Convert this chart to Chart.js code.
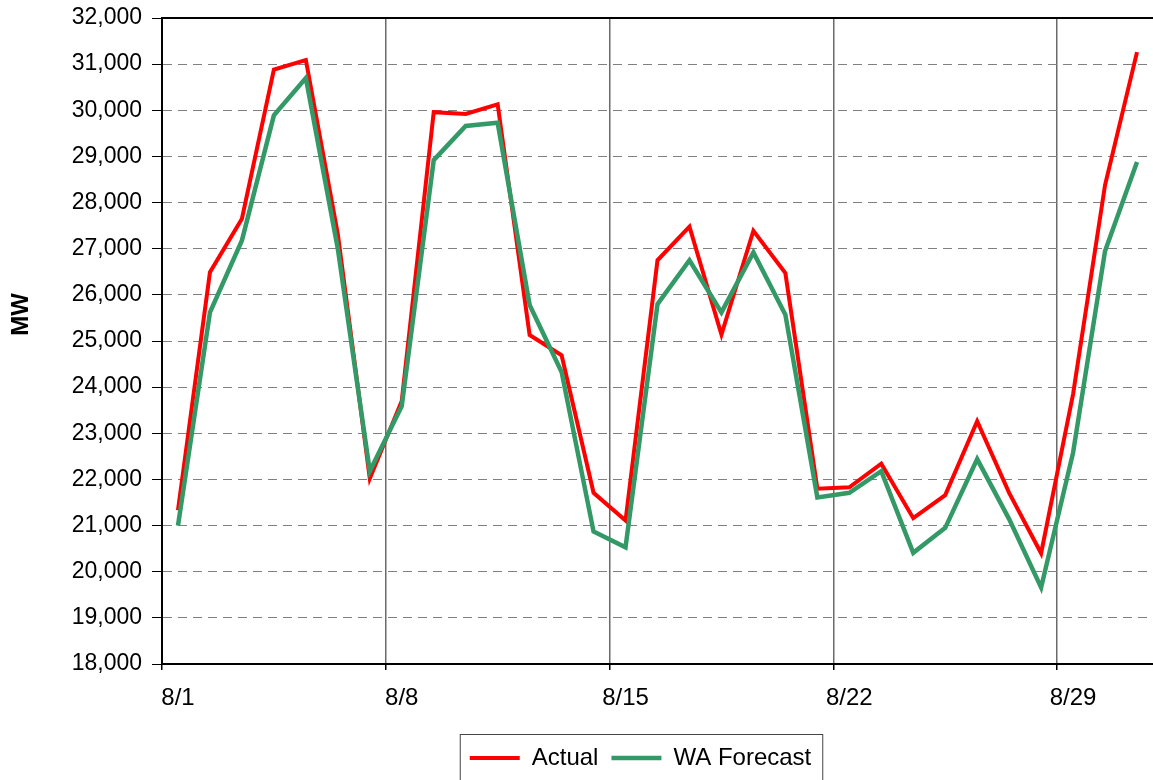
<!DOCTYPE html>
<html>
<head>
<meta charset="utf-8">
<script src="https://cdn.jsdelivr.net/npm/chart.js@4.4.1/dist/chart.umd.min.js"></script>
<style>
    html, body { margin: 0; padding: 0; background: #fff; }
    #wrap { width: 1153px; height: 780px; }
</style>
</head>
<body>
<div id="wrap"><canvas id="mwChart" width="1153" height="780"></canvas></div>
<script>
const days = ['8/1', '8/2', '8/3', '8/4', '8/5', '8/6', '8/7', '8/8', '8/9', '8/10',
    '8/11', '8/12', '8/13', '8/14', '8/15', '8/16', '8/17', '8/18', '8/19', '8/20',
    '8/21', '8/22', '8/23', '8/24', '8/25', '8/26', '8/27', '8/28', '8/29', '8/30', '8/31'];

const actual = [21330, 26490, 27650, 30880, 31090, 27320, 22020, 23700, 29960, 29920,
    30130, 25130, 24690, 21710, 21110, 26750, 27480, 25140, 27390, 26470,
    21800, 21830, 22340, 21160, 21660, 23260, 21710, 20400, 23850, 28380, 31260];

const waForecast = [21000, 25620, 27180, 29890, 30700, 27000, 22180, 23590, 28920, 29660,
    29730, 25780, 24330, 20870, 20530, 25800, 26750, 25620, 26920, 25570,
    21610, 21710, 22180, 20410, 20950, 22440, 21140, 19660, 22580, 26950, 28880];

const shownTicks = ['8/1', '8/8', '8/15', '8/22', '8/29'];
const weekLines = [7, 14, 21, 28];

const font = 'Liberation Sans, Arial, sans-serif';

// top border of the plot area + box round the legend
const framePlugin = {
    id: 'frame',
    afterLayout(chart) {
        // legend sits a bit left of the plot centre in the original
        chart.legend.left -= 17;
        chart.legend.right -= 17;
    },
    afterDraw(chart) {
        const ctx = chart.ctx;
        const area = chart.chartArea;
        ctx.save();
        ctx.strokeStyle = '#000';
        ctx.lineWidth = 2;
        ctx.beginPath();
        ctx.moveTo(area.left, area.top);
        ctx.lineTo(area.right, area.top);
        ctx.stroke();

        const boxes = chart.legend.legendHitBoxes;
        if (boxes && boxes.length) {
            const first = boxes[0];
            const last = boxes[boxes.length - 1];
            const x1 = first.left - 10;
            const x2 = last.left + last.width + 11;
            const y1 = chart.legend.top + 1;
            ctx.strokeStyle = '#444';
            ctx.lineWidth = 1;
            ctx.strokeRect(x1 + 0.5, y1 + 0.5, x2 - x1, 60);
        }
        ctx.restore();
    }
};

new Chart(document.getElementById('mwChart').getContext('2d'), {
    type: 'line',
    data: {
        labels: days,
        datasets: [
            {
                label: 'Actual',
                data: actual,
                borderColor: '#ff0000',
                backgroundColor: '#ff0000',
                borderWidth: 4,
                pointRadius: 0,
                tension: 0,
                order: 1
            },
            {
                label: 'WA Forecast',
                data: waForecast,
                borderColor: '#339966',
                backgroundColor: '#339966',
                borderWidth: 4.5,
                pointRadius: 0,
                tension: 0,
                order: 0
            }
        ]
    },
    options: {
        responsive: false,
        animation: false,
        layout: {
            padding: { top: 18, right: 0, left: 0, bottom: 0 }
        },
        plugins: {
            tooltip: { enabled: false },
            legend: {
                position: 'bottom',
                fullSize: false,
                labels: {
                    sort: (a, b) => a.datasetIndex - b.datasetIndex,
                    usePointStyle: true,
                    pointStyle: 'line',
                    pointStyleWidth: 50,
                    padding: 13,
                    color: '#000',
                    font: { family: font, size: 24 }
                }
            }
        },
        scales: {
            x: {
                offset: true,
                afterFit: (scale) => { scale.height = 69; },
                grid: {
                    offset: true,
                    tickLength: 6,
                    lineWidth: 1.5,
                    color: (ctx) => weekLines.includes(ctx.index) ? '#6a6a6a' : 'rgba(0,0,0,0)',
                    tickColor: (ctx) => (weekLines.includes(ctx.index) || ctx.index === 0) ? '#000' : 'rgba(0,0,0,0)'
                },
                border: { color: '#000', width: 2 },
                ticks: {
                    autoSkip: false,
                    maxRotation: 0,
                    padding: 14,
                    color: '#000',
                    font: { family: font, size: 24 },
                    callback: function(value) {
                        const lbl = this.getLabelForValue(value);
                        return shownTicks.includes(lbl) ? lbl : '';
                    }
                }
            },
            y: {
                min: 18000,
                max: 32000,
                afterFit: (scale) => { scale.width = 162; },
                grid: {
                    color: '#808080',
                    lineWidth: 1,
                    tickLength: 10,
                    tickColor: '#000',
                    tickBorderDash: [1, 0]
                },
                border: { color: '#000', width: 2, dash: [9, 6] },
                ticks: {
                    stepSize: 1000,
                    padding: 10,
                    color: '#000',
                    // small line height so the top label does not push the plot down
                    font: { family: font, size: 23, lineHeight: 0.6 },
                    callback: (v) => v.toLocaleString('en-US')
                },
                title: {
                    display: true,
                    // leading spaces lift the label, it sits above centre in the original
                    text: '\u00a0\u00a0\u00a0\u00a0\u00a0\u00a0\u00a0\u00a0MW',
                    color: '#000',
                    padding: { top: 7, bottom: 0 },
                    font: { family: font, size: 24, weight: 'bold' }
                }
            }
        }
    },
    plugins: [framePlugin]
});
</script>
</body>
</html>
